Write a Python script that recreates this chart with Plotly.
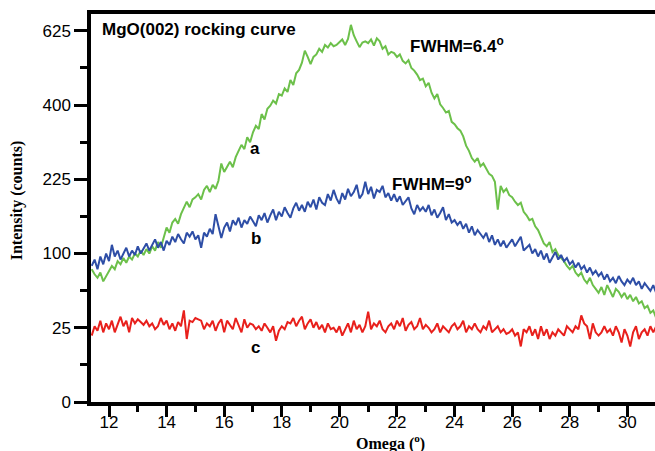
import numpy as np
import plotly.graph_objects as go

# Omega scan: start 11.4 deg, step 0.1 deg
omega_start = 11.4
omega_step = 0.1

# Intensity (counts), curve a (green)
green = [80, 74, 70, 76, 66, 72,
         78, 84, 80, 90, 86, 94, 88, 96, 92, 100,
         96, 104, 98, 106, 100, 110, 104, 116, 108, 124,
         138, 130, 146, 152, 144, 160, 170, 182, 172, 186,
         190, 196, 186, 204, 212, 200, 214, 206, 222, 258,
         240, 252, 262, 250, 272, 286, 300, 290, 318, 306,
         330, 346, 338, 376, 362, 390, 398, 412, 404, 430,
         426, 446, 436, 470, 456, 490, 500, 522, 560, 540,
         518, 540, 548, 566, 556, 578, 570, 584, 574, 578,
         586, 596, 578, 598, 645, 610, 590, 571, 586, 590,
         584, 596, 576, 600, 590, 566, 574, 548, 556, 552,
         540, 548, 528, 520, 530, 506, 498, 486, 470, 474,
         452, 462, 434, 418, 430, 402, 392, 380, 384, 356,
         350, 340, 334, 320, 298, 286, 270, 262, 270, 252,
         258, 246, 236, 232, 220, 168, 212, 200, 206, 194,
         190, 182, 176, 180, 164, 158, 150, 152, 140, 134,
         124, 114, 110, 116, 102, 106, 98, 94, 90, 84,
         80, 84, 76, 72, 76, 68, 64, 70, 62, 58,
         54, 60, 52, 62, 56, 50, 58, 55, 50, 54,
         48, 52, 46, 50, 44, 46, 40, 42, 36, 38,
         32]

# curve b (blue)
blue = [84, 92, 80, 96, 86, 100,
        90, 112, 96, 104, 92, 100, 108, 96, 104, 98,
        110, 100, 106, 114, 104, 112, 120, 108, 116, 104,
        118, 112, 124, 116, 128, 120, 114, 130, 124, 132,
        120, 126, 108, 130, 124, 136, 128, 160, 140, 122,
        138, 146, 132, 150, 142, 154, 138, 150, 144, 156,
        148, 140, 158, 150, 162, 146, 158, 168, 150, 164,
        156, 172, 162, 154, 170, 180, 166, 176, 164, 182,
        172, 186, 168, 190, 180, 176, 196, 184, 204, 188,
        178, 198, 186, 206, 192, 200, 214, 188, 196, 220,
        196, 210, 188, 204, 200, 212, 190, 198, 184, 196,
        182, 192, 176, 184, 190, 170, 160, 176, 166, 172,
        164, 176, 158, 168, 154, 162, 172, 150, 160, 146,
        150, 142, 148, 136, 144, 130, 140, 126, 134, 128,
        122, 130, 116, 126, 112, 120, 110, 118, 108, 114,
        120, 110, 116, 124, 104, 108, 112, 100, 106, 96,
        104, 92, 100, 88, 96, 102, 92, 98, 90, 94,
        86, 90, 82, 88, 80, 84, 76, 82, 74, 78,
        72, 76, 68, 74, 66, 70, 64, 72, 66, 62,
        68, 64, 70, 62, 66, 58, 64, 60, 56, 62,
        54]

# curve c (red)
red = [20, 26, 23, 30, 22, 28,
       24, 30, 22, 28, 33, 26, 30, 22, 32, 28,
       31, 29, 27, 30, 26, 28, 24, 26, 32, 27,
       30, 24, 28, 23, 29, 26, 38, 18, 30, 29,
       32, 31, 30, 24, 28, 26, 30, 23, 28, 31,
       22, 30, 27, 24, 32, 26, 22, 31, 25, 28,
       27, 24, 26, 23, 28, 25, 22, 26, 17, 23,
       26, 24, 29, 28, 32, 26, 30, 33, 24, 28,
       31, 25, 29, 24, 27, 22, 28, 24, 25, 22,
       26, 20, 24, 28, 22, 30, 24, 27, 22, 26,
       37, 24, 28, 26, 30, 24, 22, 26, 28, 24,
       30, 26, 32, 23, 27, 29, 24, 26, 32, 24,
       27, 25, 22, 24, 28, 22, 26, 24, 22, 26,
       28, 24, 26, 30, 22, 26, 24, 28, 24, 22,
       26, 24, 30, 22, 24, 26, 22, 24, 21, 22,
       24, 20, 22, 14, 24, 22, 26, 20, 24, 18,
       26, 20, 24, 18, 22, 20, 24, 22, 20, 26,
       24, 22, 26, 24, 34, 28, 26, 18, 28, 22,
       20, 22, 26, 22, 24, 20, 26, 22, 16, 24,
       20, 14, 22, 26, 18, 22, 24, 20, 26, 22,
       26]

y_tick_counts = [0, 25, 100, 225, 400, 625]
x_ticks = [12, 14, 16, 18, 20, 22, 24, 26, 28, 30]

def omega_for(series):
    return np.round(omega_start + omega_step * np.arange(len(series)), 2)

# square-root intensity scale
def sq(v):
    return np.sqrt(np.asarray(v, dtype=float))

fig = go.Figure()
fig.add_trace(go.Scatter(x=omega_for(red), y=sq(red), mode="lines",
                         line=dict(color="#e8201c", width=2)))
fig.add_trace(go.Scatter(x=omega_for(green), y=sq(green), mode="lines",
                         line=dict(color="#6cc04a", width=2)))
fig.add_trace(go.Scatter(x=omega_for(blue), y=sq(blue), mode="lines",
                         line=dict(color="#2e4ea6", width=2)))

tickfont = dict(family="Liberation Sans, Arial", size=17, color="black")
bold = dict(family="Liberation Sans, Arial", size=17, color="black")
serif = dict(family="Liberation Serif, Times New Roman", size=16, color="black")

fig.update_layout(
    width=655, height=451,
    margin=dict(l=91, r=0, t=14, b=49),
    plot_bgcolor="white", paper_bgcolor="white",
    showlegend=False,
    xaxis=dict(range=[11.375, 30.96], tickvals=x_ticks, ticks="outside",
               ticklen=11, tickwidth=3, tickcolor="black",
               ticklabelstandoff=-9,
               showline=True, linewidth=3.5, linecolor="black", mirror=True,
               showgrid=False, zeroline=False, tickfont=tickfont,
               minor=dict(dtick=1, tick0=11, ticks="outside", ticklen=6,
                          tickwidth=3, tickcolor="black", showgrid=False)),
    yaxis=dict(range=[0, 26.13], tickvals=list(sq(y_tick_counts)),
               ticktext=[str(v) for v in y_tick_counts],
               ticks="outside", ticklen=13, tickwidth=3, tickcolor="black",
               showline=True, linewidth=3.5, linecolor="black",
               showgrid=False, zeroline=False, tickfont=tickfont,
               minor=dict(dtick=2.5, tick0=0, ticks="outside", ticklen=7,
                          tickwidth=3, tickcolor="black", showgrid=False)),
)

ann = [
    dict(text="<b>MgO(002) rocking curve</b>", xref="paper", yref="paper",
         x=0.016, y=0.959, xanchor="left", yanchor="middle", font=bold),
    dict(text="<b>FWHM=6.4<sup>o</sup></b>", xref="x", yref="y",
         x=22.38, y=24.04, xanchor="left", yanchor="middle", font=bold),
    dict(text="<b>FWHM=9<sup>o</sup></b>", xref="x", yref="y",
         x=21.76, y=14.74, xanchor="left", yanchor="middle", font=bold),
    dict(text="<b>a</b>", xref="x", yref="y", x=17.07, y=17.1, font=bold),
    dict(text="<b>b</b>", xref="x", yref="y", x=17.1, y=11.03, font=bold),
    dict(text="<b>c</b>", xref="x", yref="y", x=17.07, y=3.69, font=bold),
    dict(text="<b>Omega (<sup>o</sup>)</b>", xref="paper", yref="paper",
         x=(390 - 91) / 564, y=-(442 - 401.7) / 388, xanchor="center",
         yanchor="middle", font=serif),
    dict(text="<b>Intensity (counts)</b>", xref="paper", yref="paper",
         x=-(91 - 17) / 564, y=(401.7 - 200) / 388, xanchor="center",
         yanchor="middle", textangle=-90, font=serif),
]
for a in ann:
    a.setdefault("showarrow", False)
fig.update_layout(annotations=ann)

fig.write_html("out.html")
